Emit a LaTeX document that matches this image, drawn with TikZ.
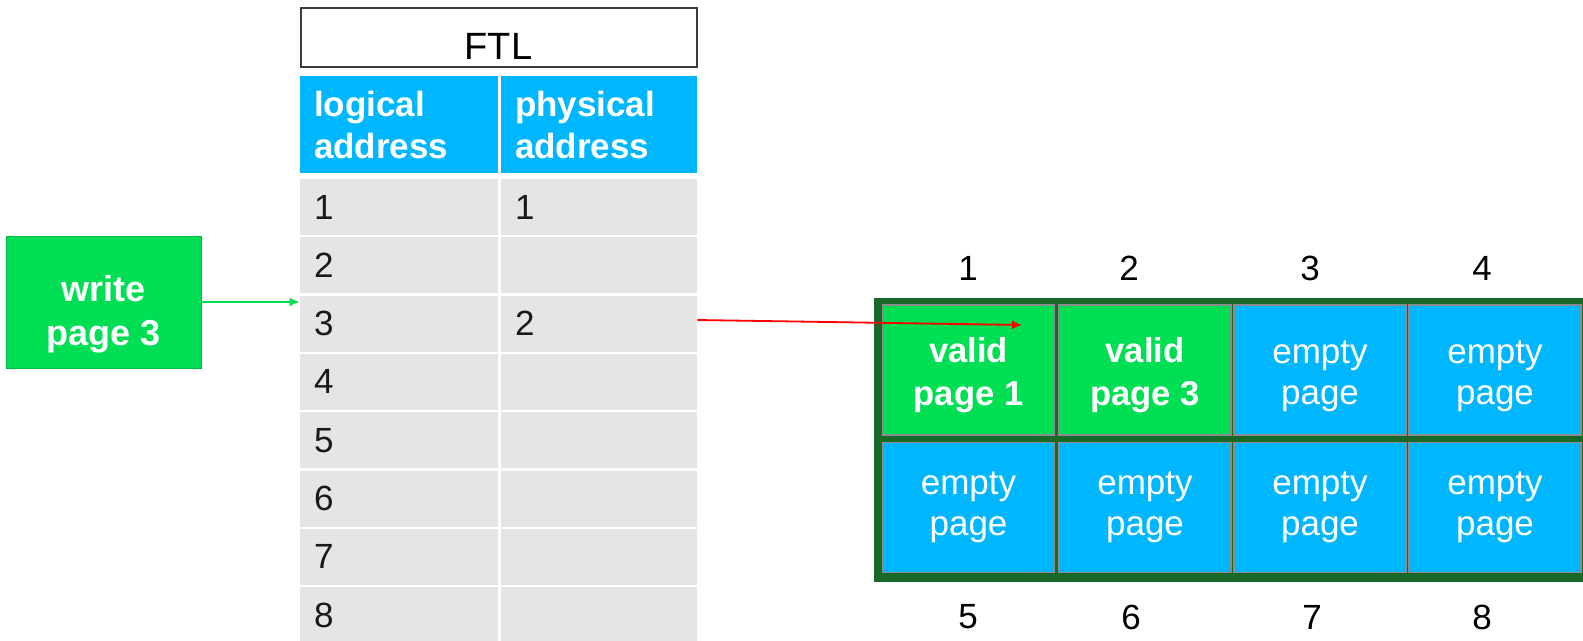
\documentclass[tikz,border=0pt]{standalone}
\usepackage{fontspec}
\setmainfont{Liberation Sans}
\usetikzlibrary{arrows.meta}
\definecolor{pggreen}{RGB}{0,222,84}
\definecolor{hdblue}{RGB}{0,183,255}
\definecolor{rowgrey}{RGB}{229,229,229}
\definecolor{blkgreen}{RGB}{24,105,40}
\definecolor{edgegrey}{RGB}{140,140,140}
\definecolor{ftlgrey}{RGB}{60,60,60}
% pushes the first text line down inside a node
\newcommand{\drop}[1]{\rule{0pt}{#1}}

\begin{document}
\begin{tikzpicture}[
  x=0.5pt, y=-0.5pt,
  font=\fontsize{17.5}{19.5}\selectfont,
  tbl/.style={rectangle, fill=rowgrey, text=black!90, text width=85pt, inner xsep=7pt, inner ysep=0pt, minimum height=28pt, align=left},
  tblr/.style={tbl, text width=84pt},
  hd/.style={fill=hdblue, text=white, minimum height=48.5pt, font=\fontsize{17.5}{21}\selectfont\bfseries},
  val/.style={rectangle, fill=pggreen, draw=edgegrey, line width=0.6pt, text=white, minimum width=86pt, minimum height=65pt, align=center, font=\fontsize{17.3}{21.5}\selectfont\bfseries},
  emp/.style={val, fill=hdblue, font=\fontsize{17.5}{20.5}\selectfont},
  lab/.style={inner sep=0pt},
  ar/.style={-{Latex[length=5pt,width=4.5pt]}, line width=0.9pt}
]
\useasboundingbox (0,0) rectangle (1583,641);
% write request
\node[rectangle, fill=pggreen, draw=pggreen!85!black, line width=0.4pt, text=white, align=center,
      minimum width=97.5pt, minimum height=66pt, font=\fontsize{18}{22}\selectfont\bfseries]
      (wr) at (103.5,302) {\drop{25pt}write\\page 3};
% mapping table
\node[rectangle, draw=ftlgrey, line width=1pt, fill=white, minimum width=198pt, minimum height=29.5pt,
      text height=21.6pt, text depth=0pt, font=\fontsize{19}{22}\selectfont] (ftl) at (498.5,37.5) {FTL};
\node[tbl, hd]  (lh) at (399,124.5) {logical\\address};
\node[tblr, hd] (ph) at (599,124.5) {physical\\address};
\node[tbl] (l1) at (399,207.0) {1};   \node[tblr] (p1) at (599,207.0) {1};
\node[tbl] (l2) at (399,265.3) {2};   \node[tblr] (p2) at (599,265.3) {};
\node[tbl] (l3) at (399,323.6) {3};   \node[tblr] (p3) at (599,323.6) {2};
\node[tbl] (l4) at (399,381.9) {4};   \node[tblr] (p4) at (599,381.9) {};
\node[tbl] (l5) at (399,440.2) {5};   \node[tblr] (p5) at (599,440.2) {};
\node[tbl] (l6) at (399,498.5) {6};   \node[tblr] (p6) at (599,498.5) {};
\node[tbl] (l7) at (399,556.8) {7};   \node[tblr] (p7) at (599,556.8) {};
\node[tbl] (l8) at (399,615.1) {8};   \node[tblr] (p8) at (599,615.1) {};
% flash block
\node[rectangle, fill=blkgreen, inner sep=0pt, anchor=north west, minimum width=354.5pt, minimum height=142pt]
      (blk) at (874,298) {};
\node[val] (b1) at (968.5,370) {\drop{17.5pt}valid\\page 1};
\node[val] (b2) at (1145,370)  {\drop{17.5pt}valid\\page 3};
\node[emp] (b3) at (1320,370)  {\drop{17.5pt}empty\\page};
\node[emp] (b4) at (1495,370)  {\drop{17.5pt}empty\\page};
\node[emp] (b5) at (968.5,507.5) {empty\\page};
\node[emp] (b6) at (1145,507.5)  {empty\\page};
\node[emp] (b7) at (1320,507.5)  {empty\\page};
\node[emp] (b8) at (1495,507.5)  {empty\\page};
\node[lab] (n1) at (968,268)  {1};
\node[lab] (n2) at (1129,268) {2};
\node[lab] (n3) at (1310,268) {3};
\node[lab] (n4) at (1482,268) {4};
\node[lab] (n5) at (968,617)  {5};
\node[lab] (n6) at (1131,617) {6};
\node[lab] (n7) at (1312,617) {7};
\node[lab] (n8) at (1482,617) {8};
% arrows
\coordinate (hit) at (1022,325);
\draw[ar, draw=pggreen, fill=pggreen] (wr.east) -- (wr.east -| l3.west);
\draw[ar, draw=red, fill=red] ([yshift=1.8pt]p3.east) -- (hit);
\end{tikzpicture}
\end{document}
